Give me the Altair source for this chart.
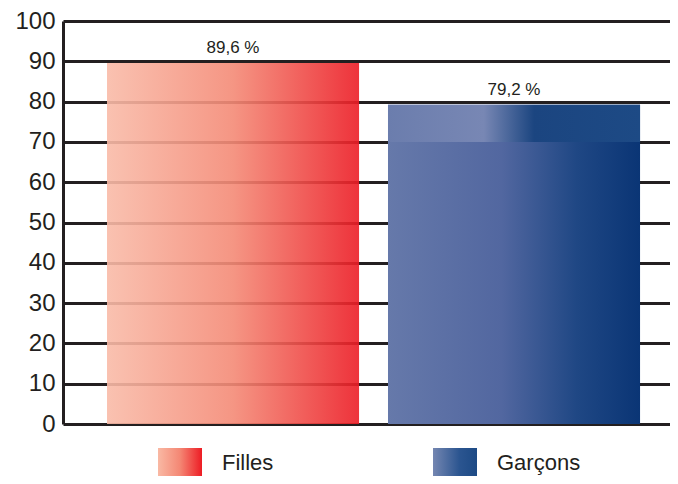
import altair as alt
import pandas as pd

categories = ["Filles", "Garçons"]
values = [89.6, 79.2]
value_labels = ["89,6 %", "79,2 %"]
y_ticks = [0, 10, 20, 30, 40, 50, 60, 70, 80, 90, 100]
blue_band_from = [70]

df = pd.DataFrame({"cat": categories, "val": values, "lab": value_labels})

INK = "#231F20"
FONT = "Liberation Sans"


def grad(stops):
    return alt.Gradient(
        gradient="linear", x1=0, x2=1, y1=0, y2=0,
        stops=[alt.GradientStop(color=c, offset=o) for o, c in stops],
    )


red_grad = grad([(0, "#F9BBA8"), (0.5, "#F48A76"), (1, "#EC1C25")])
blue_grad = grad([(0, "#6679AA"), (0.45, "#5267A0"), (0.75, "#1F4784"), (1, "#0A3575")])
blue_top_grad = grad([(0, "#6B7DAD"), (0.38, "#7887B4"), (0.58, "#1B4580"), (1, "#1D4A85")])
red_leg = grad([(0, "#F9B9A4"), (0.5, "#F48774"), (1, "#ED1C24")])
blue_leg = grad([(0, "#7486B1"), (0.6, "#2B5590"), (1, "#1D4A85")])

x = alt.X(
    "cat:N",
    scale=alt.Scale(domain=categories, paddingInner=0.103, paddingOuter=0.1316, align=0.595),
    axis=None,
)
y = alt.Y(
    "val:Q",
    scale=alt.Scale(domain=[0, 100], nice=False),
    axis=alt.Axis(
        values=y_ticks, grid=True, gridColor=INK, gridWidth=3,
        domainColor=INK, domainWidth=3, ticks=False,
        labelFont=FONT, labelFontSize=24, labelColor=INK, labelPadding=8,
        title=None,
    ),
)

base = alt.Chart(df)
is_f = alt.FieldEqualPredicate(field="cat", equal=categories[0])
is_g = alt.FieldEqualPredicate(field="cat", equal=categories[1])

red_bar = base.transform_filter(is_f).mark_bar(color=red_grad, opacity=0.9).encode(x=x, y=y)
blue_bar = base.transform_filter(is_g).mark_bar(color=blue_grad).encode(x=x, y=y)
blue_top = (
    base.transform_filter(is_g)
    .transform_calculate(lo=str(blue_band_from[0]))
    .mark_bar(color=blue_top_grad)
    .encode(x=x, y=y, y2="lo:Q")
)
texts = base.mark_text(
    baseline="bottom", dy=-6, fontSize=17, font=FONT, color=INK
).encode(x=x, y=y, text="lab:N")

leg_f = pd.DataFrame({"cat": [categories[0]]})
leg_g = pd.DataFrame({"cat": [categories[1]]})

sw_f = alt.Chart(leg_f).mark_rect(color=red_leg).encode(
    x=alt.value(95), x2=alt.value(139), y=alt.value(427), y2=alt.value(455)
)
sw_g = alt.Chart(leg_g).mark_rect(color=blue_leg).encode(
    x=alt.value(370), x2=alt.value(414), y=alt.value(427), y2=alt.value(455)
)
tx_f = alt.Chart(leg_f).mark_text(
    align="left", baseline="middle", fontSize=22, font=FONT, color=INK
).encode(x=alt.value(159), y=alt.value(442), text="cat:N")
tx_g = alt.Chart(leg_g).mark_text(
    align="left", baseline="middle", fontSize=22, font=FONT, color=INK
).encode(x=alt.value(434), y=alt.value(442), text="cat:N")

chart = (
    alt.layer(red_bar, blue_bar, blue_top, texts, sw_f, sw_g, tx_f, tx_g)
    .properties(
        width=607, height=403, autosize="none",
        padding={"left": 55, "top": 13, "right": 0, "bottom": 52},
    )
    .configure_view(stroke=None)
)

chart.save("out.html", embed_options={"renderer": "svg", "actions": False})
